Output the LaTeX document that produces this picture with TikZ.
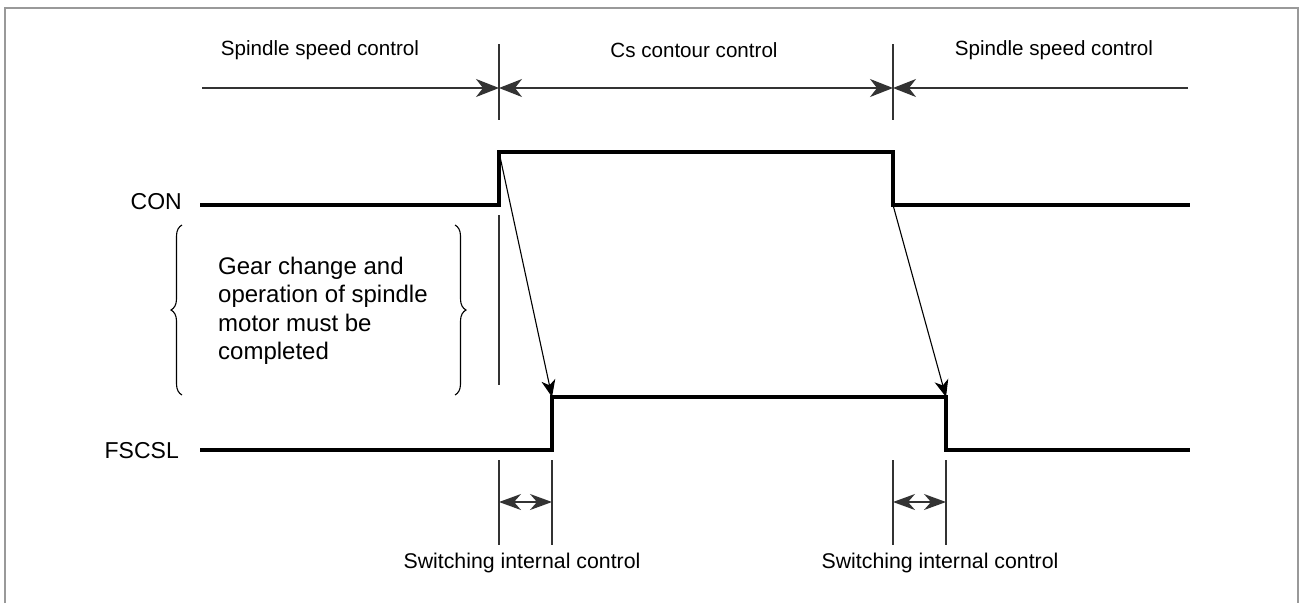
\documentclass[tikz,border=0pt]{standalone}
\usepackage{fontspec}
\setmainfont{Liberation Sans}
\usetikzlibrary{arrows.meta,decorations.pathreplacing}
\begin{document}
\begin{tikzpicture}[x=1pt,y=-1pt,
  lbl/.style={font=\fontsize{20.6}{27.5}\selectfont, inner sep=0pt},
  siglbl/.style={font=\fontsize{23}{27.5}\selectfont, inner sep=0pt},
  notelbl/.style={font=\fontsize{24}{28.5}\selectfont, inner sep=0pt},
  swlbl/.style={font=\fontsize{21.3}{27.5}\selectfont, inner sep=0pt},
  sig/.style={line width=3.4pt, line join=miter, line cap=butt},
  thinln/.style={line width=1.3pt, black!80},
  finer/.style={line width=1.1pt},
  bigtip/.style={-{Stealth[length=23pt,width=18pt,inset=7pt]}},
  bigtips/.style={{Stealth[length=23pt,width=18pt,inset=7pt]}-{Stealth[length=23pt,width=18pt,inset=7pt]}},
  smalltips/.style={{Stealth[length=22pt,width=16pt,inset=7pt]}-{Stealth[length=22pt,width=16pt,inset=7pt]}},
  diagtip/.style={-{Stealth[length=17pt,width=14pt,inset=5pt]}},
  bracestyle/.style={decorate, decoration={brace, amplitude=11pt}, line width=1.1pt}
]
\useasboundingbox (0,0) rectangle (1300,603);
% frame
\draw[black!40, line width=2pt] (5,603) -- (5,8) -- (1298,8) -- (1298,603);

% top labels
\node[lbl] (t1) at (320,50) {Spindle speed control};
\node[lbl] (t2) at (694,50) {Cs contour control};
\node[lbl] (t3) at (1054,50) {Spindle speed control};

% top timeline
\coordinate (hl) at (202,88);
\coordinate (ha) at (499,88);
\coordinate (hb) at (893,88);
\coordinate (hr) at (1188,88);
\coordinate (ta1) at (499,44);
\coordinate (ta2) at (499,120);
\coordinate (tb1) at (893,44);
\coordinate (tb2) at (893,120);
\draw[thinln] (ta1) -- (ta2);
\draw[thinln] (tb1) -- (tb2);
\draw[thinln, bigtip] (hl) -- (ha);
\draw[thinln, bigtips] (ha) -- (hb);
\draw[thinln, bigtip] (hr) -- (hb);

% signal labels
\node[siglbl, anchor=east] (con) at (182,202) {CON};
\node[siglbl, anchor=east] (fscsl) at (179,451) {FSCSL};

% CON signal
\coordinate (c0) at (200,205);
\coordinate (c1) at (499,205);
\coordinate (c2) at (499,152);
\coordinate (c3) at (893,152);
\coordinate (c4) at (893,205);
\coordinate (c5) at (1190,205);
\draw[sig] (c0) -- (c1) -- (c2) -- (c3) -- (c4) -- (c5);

% FSCSL signal
\coordinate (f0) at (200,450);
\coordinate (f1) at (552,450);
\coordinate (f2) at (552,397);
\coordinate (f3) at (946,397);
\coordinate (f4) at (946,450);
\coordinate (f5) at (1190,450);
\draw[sig] (f0) -- (f1) -- (f2) -- (f3) -- (f4) -- (f5);

% causal arrows
\draw[finer, diagtip] (c2) -- (f2);
\draw[finer, diagtip] (c4) -- (f3);

% vertical reference line below CON
\coordinate (v1) at (499,215);
\coordinate (v2) at (499,385);
\draw[thinln] (v1) -- (v2);

% braces and note
\coordinate (bl1) at (182,395);
\coordinate (bl2) at (182,225);
\coordinate (br1) at (455,225);
\coordinate (br2) at (455,395);
\draw[bracestyle] (bl1) -- (bl2);
\draw[bracestyle] (br1) -- (br2);
\node[notelbl, anchor=west, align=left] (note) at (218,311) {Gear change and\\operation of spindle\\motor must be\\completed};

% switching intervals
\coordinate (s1a) at (499,460); \coordinate (s1b) at (499,545);
\coordinate (s2a) at (552,460); \coordinate (s2b) at (552,545);
\coordinate (s3a) at (893,460); \coordinate (s3b) at (893,545);
\coordinate (s4a) at (946,460); \coordinate (s4b) at (946,545);
\draw[thinln] (s1a) -- (s1b);
\draw[thinln] (s2a) -- (s2b);
\draw[thinln] (s3a) -- (s3b);
\draw[thinln] (s4a) -- (s4b);
\coordinate (d1) at (499,502); \coordinate (d2) at (552,502);
\coordinate (d3) at (893,502); \coordinate (d4) at (946,502);
\draw[thinln, smalltips] (d1) -- (d2);
\draw[thinln, smalltips] (d3) -- (d4);
\node[swlbl] (sw1) at (522,563) {Switching internal control};
\node[swlbl] (sw2) at (940,563) {Switching internal control};
\end{tikzpicture}
\end{document}
